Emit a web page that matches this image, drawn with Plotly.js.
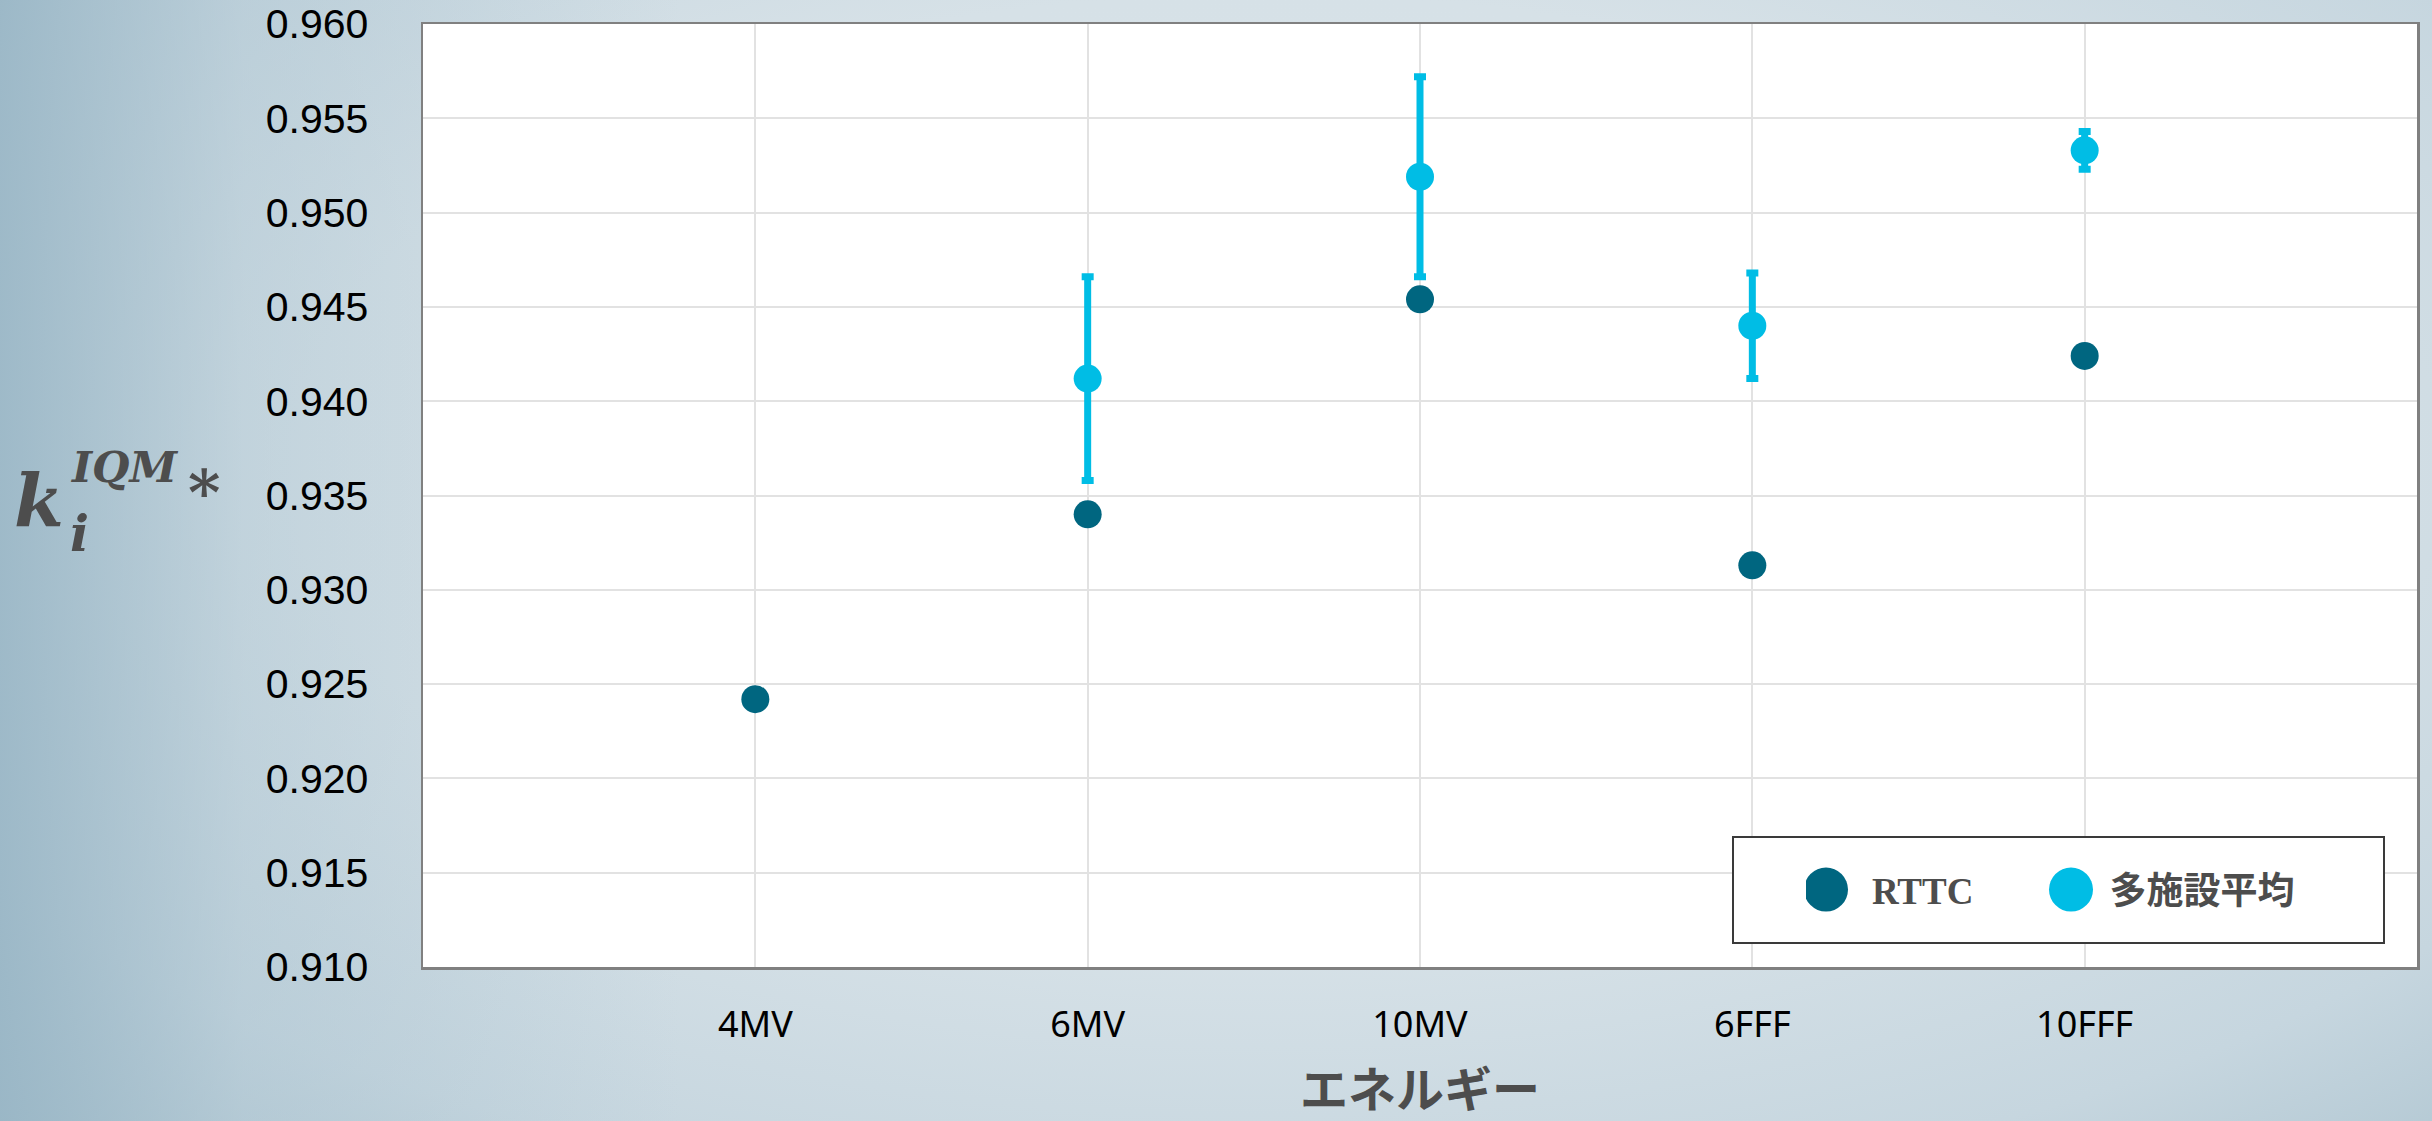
<!DOCTYPE html>
<html>
<head>
<meta charset="utf-8">
<script src="https://cdn.plot.ly/plotly-3.0.1.min.js"></script>
<style>
  html, body { margin: 0; padding: 0; width: 2432px; height: 1121px; overflow: hidden; }
  body {
    background:
      linear-gradient(to right, rgba(150,180,196,0.85) 0%, rgba(170,195,208,0.45) 10%, rgba(210,222,229,0) 28%),
      radial-gradient(ellipse 80% 85% at 52% 42%, #d9e3e9 0%, #d6e1e7 50%, #c6d6df 78%, #acc3cf 100%);
  }
  #chart { width: 2432px; height: 1121px; }
</style>
</head>
<body>
<div id="chart"></div>
<script>
// Beam energies on the category axis
const energies = ['4MV', '6MV', '10MV', '6FFF', '10FFF'];

// k_i^IQM* measured at RTTC
const rttcValues = [0.9242, 0.9340, 0.9454, 0.9313, 0.9424];

// Multi-institution mean and its spread (no 4MV entry)
const multiSiteMean = [null, 0.9412, 0.9519, 0.9440, 0.9533];
const multiSiteSD   = [null, 0.0054, 0.0053, 0.0028, 0.0010];

// Value axis ticks
const yTickValues = [0.910, 0.915, 0.920, 0.925, 0.930, 0.935, 0.940, 0.945, 0.950, 0.955, 0.960];

const seriesNames = ['RTTC', '多施設平均'];

// Plot-area geometry in page pixels
const W = 2432, H = 1121;
const plotL = 423, plotR = 2417, plotT = 24, plotB = 967;
const px = v => (v - plotL) / (plotR - plotL);
const py = v => (plotB - v) / (plotB - plotT);

const darkTeal = '#006680';
const lightBlue = '#00bde5';
const labelGray = '#4d4d4d';

const traces = [
  {
    type: 'scatter', mode: 'markers',
    name: '\u2002\u2009<span style="font-family:Liberation Serif">' + seriesNames[0] + '</span>',
    x: energies, y: rttcValues,
    marker: { color: darkTeal, size: 28 },
    hoverinfo: 'x+y'
  },
  {
    type: 'scatter', mode: 'markers',
    name: '\u2002' + seriesNames[1],
    x: energies, y: multiSiteMean,
    marker: { color: lightBlue, size: 28 },
    error_y: { type: 'data', array: multiSiteSD, visible: true, color: lightBlue, thickness: 7, width: 6 },
    hoverinfo: 'x+y'
  }
];

const mathFont = { family: 'DejaVu Serif', color: labelGray, weight: 'bold', style: 'italic' };

const layout = {
  width: W, height: H,
  margin: { l: plotL, r: W - plotR, t: plotT, b: H - plotB, pad: 0 },
  paper_bgcolor: 'rgba(0,0,0,0)',
  plot_bgcolor: '#ffffff',
  showlegend: true,
  legend: {
    orientation: 'h',
    x: px(1806), xanchor: 'left',
    y: py(890), yanchor: 'middle',
    bgcolor: 'rgba(0,0,0,0)',
    borderwidth: 0,
    entrywidth: 200, entrywidthmode: 'pixels',
    font: { family: 'Noto Sans CJK JP', size: 37, color: labelGray, weight: 'bold' }
  },
  xaxis: {
    type: 'category',
    categoryorder: 'array', categoryarray: energies,
    range: [-1, energies.length],
    showgrid: true, gridcolor: '#e2e2e2', gridwidth: 2,
    showline: true, mirror: true, linecolor: '#808080', linewidth: 2.5,
    ticks: '', ticklabelstandoff: 24,
    tickfont: { family: 'Noto Sans', size: 36, color: '#000000' },
    title: {
      text: 'エネルギー',
      standoff: 42,
      font: { family: 'Noto Sans CJK JP', size: 48, color: labelGray, weight: 'bold' }
    },
    fixedrange: true
  },
  yaxis: {
    range: [0.910, 0.960],
    tickvals: yTickValues, tickformat: '.3f',
    showgrid: true, gridcolor: '#e2e2e2', gridwidth: 2,
    zeroline: false,
    showline: true, mirror: true, linecolor: '#808080', linewidth: 2.5,
    ticks: '', ticklabelstandoff: 44,
    tickfont: { family: 'Liberation Sans', size: 41, color: '#000000' },
    fixedrange: true
  },
  shapes: [
    {
      type: 'rect', xref: 'paper', yref: 'paper', layer: 'above',
      x0: px(1733), x1: px(2384), y0: py(943), y1: py(837),
      fillcolor: '#ffffff', line: { color: '#3a3a3a', width: 2 }
    }
  ],
  annotations: [
    { xref: 'paper', yref: 'paper', x: px(12), y: py(502), xanchor: 'left', yanchor: 'middle',
      text: 'k', showarrow: false, font: Object.assign({ size: 72 }, mathFont) },
    { xref: 'paper', yref: 'paper', x: px(68), y: py(467), xanchor: 'left', yanchor: 'middle',
      text: 'IQM', showarrow: false, font: Object.assign({ size: 43 }, mathFont) },
    { xref: 'paper', yref: 'paper', x: px(68), y: py(533), xanchor: 'left', yanchor: 'middle',
      text: 'i', showarrow: false, font: Object.assign({ size: 50 }, mathFont) },
    { xref: 'paper', yref: 'paper', x: px(186), y: py(493), xanchor: 'left', yanchor: 'middle',
      text: '*', showarrow: false, font: Object.assign({ size: 62 }, mathFont) }
  ]
};

Plotly.newPlot('chart', traces, layout, { staticPlot: true }).then(gd => {
  // enlarge the legend symbols to the size used in the key box
  gd.querySelectorAll('.legend .legendpoints path.scatterpts').forEach(p => {
    p.setAttribute('d', 'M22,0A22,22 0 1,1 0,-22A22,22 0 0,1 22,0Z');
  });
});
</script>
</body>
</html>
